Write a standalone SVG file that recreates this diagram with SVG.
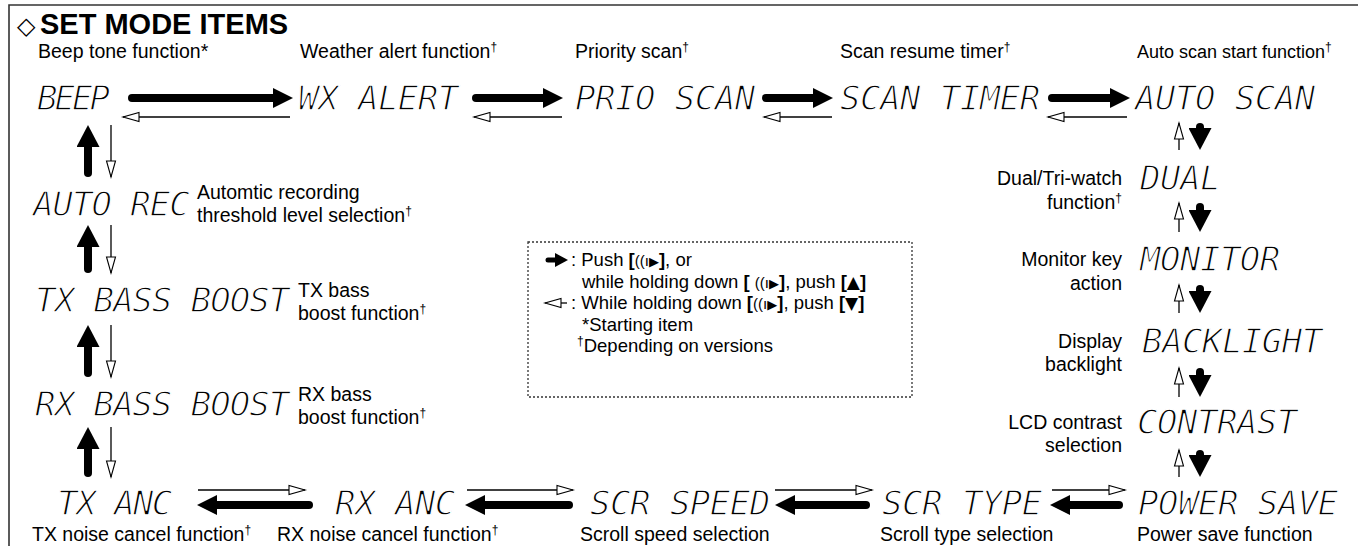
<svg xmlns="http://www.w3.org/2000/svg" width="1358" height="546" viewBox="0 0 1358 546">
<style>
.lbl{font-family:"Liberation Sans",Arial,sans-serif;font-size:19.5px;fill:#000}
.sm{font-size:18px}
.leg{font-size:18.5px}
.sup{font-size:12px}
.lcd{font-family:"DejaVu Sans Mono","Liberation Mono",monospace;font-style:italic;font-size:34px;letter-spacing:-0.5px;fill:#000;stroke:#fff;stroke-width:1.3px}
.thick{stroke:#000;stroke-width:8;stroke-linecap:round;fill:none;marker-end:url(#sh)}
.thickv{stroke:#000;stroke-width:8;stroke-linecap:round;fill:none;marker-end:url(#sv)}
.thin{stroke:#000;stroke-width:1.3;fill:none;marker-end:url(#op)}
.frame{stroke:#333;stroke-width:1.6;fill:none}
.box{stroke:#333;stroke-width:1.3;fill:none;stroke-dasharray:2 2}
.sym{font-family:"DejaVu Sans",sans-serif}
</style>
<defs>
<marker id="sh" viewBox="0 0 20 20" refX="6" refY="10" markerWidth="20" markerHeight="20" orient="auto" markerUnits="userSpaceOnUse"><path d="M0,0 L20,10 L0,20 Z" fill="#000"/></marker>
<marker id="sv" viewBox="0 0 22 23" refX="8" refY="11.5" markerWidth="22" markerHeight="23" orient="auto" markerUnits="userSpaceOnUse"><path d="M0,0 L22,11.5 L0,23 Z" fill="#000"/></marker>
<marker id="op" viewBox="0 0 16 10" refX="16" refY="5" markerWidth="16" markerHeight="10" orient="auto" markerUnits="userSpaceOnUse" overflow="visible"><path d="M16,5 L0,0.5 L0,9.5 Z" fill="#fff" stroke="#000" stroke-width="1.1"/></marker>
</defs>

<g id="frame">
<path class="frame" d="M9,546 V5 H1358"/>
</g>

<g id="title">
<text class="sym" x="17" y="34" font-size="24" font-weight="bold">◇</text>
<text class="lbl" x="40" y="34" style="font-size:29px;font-weight:bold">SET MODE ITEMS</text>
</g>

<g id="beep">
<text class="lbl" x="38" y="58">Beep tone function*</text>
<text class="lcd" x="37" y="110" style="letter-spacing:-3px">BEEP</text>
</g>
<g id="wx-alert">
<text class="lbl" x="300" y="58">Weather alert function<tspan class="sup" dy="-7">†</tspan></text>
<text class="lcd" x="298" y="110">WX ALERT</text>
</g>
<g id="prio-scan">
<text class="lbl" x="575" y="58">Priority scan<tspan class="sup" dy="-7">†</tspan></text>
<text class="lcd" x="575" y="110">PRIO SCAN</text>
</g>
<g id="scan-timer">
<text class="lbl" x="840" y="58">Scan resume timer<tspan class="sup" dy="-7">†</tspan></text>
<text class="lcd" x="840" y="110">SCAN TIMER</text>
</g>
<g id="auto-scan">
<text class="lbl sm" x="1137" y="58">Auto scan start function<tspan class="sup" dy="-7">†</tspan></text>
<text class="lcd" x="1135" y="110">AUTO SCAN</text>
</g>

<g id="dual">
<text class="lbl" x="1122" y="185" text-anchor="end">Dual/Tri-watch</text>
<text class="lbl" x="1122" y="209" text-anchor="end">function<tspan class="sup" dy="-7">†</tspan></text>
<text class="lcd" x="1140" y="190">DUAL</text>
</g>
<g id="monitor">
<text class="lbl" x="1122" y="266" text-anchor="end">Monitor key</text>
<text class="lbl" x="1122" y="290" text-anchor="end">action</text>
<text class="lcd" x="1140" y="271">MONITOR</text>
</g>
<g id="backlight">
<text class="lbl" x="1122" y="348" text-anchor="end">Display</text>
<text class="lbl" x="1122" y="371" text-anchor="end">backlight</text>
<text class="lcd" x="1142" y="353">BACKLIGHT</text>
</g>
<g id="contrast">
<text class="lbl" x="1122" y="429" text-anchor="end">LCD contrast</text>
<text class="lbl" x="1122" y="452" text-anchor="end">selection</text>
<text class="lcd" x="1137" y="434">CONTRAST</text>
</g>
<g id="power-save">
<text class="lcd" x="1138" y="515">POWER SAVE</text>
<text class="lbl" x="1137" y="541">Power save function</text>
</g>
<g id="scr-type">
<text class="lcd" x="882" y="515">SCR TYPE</text>
<text class="lbl" x="880" y="541">Scroll type selection</text>
</g>
<g id="scr-speed">
<text class="lcd" x="590" y="515">SCR SPEED</text>
<text class="lbl" x="580" y="541">Scroll speed selection</text>
</g>
<g id="rx-anc">
<text class="lcd" x="335" y="515">RX ANC</text>
<text class="lbl" x="277" y="541">RX noise cancel function<tspan class="sup" dy="-7">†</tspan></text>
</g>
<g id="tx-anc">
<text class="lcd" x="57" y="515" style="letter-spacing:-1.5px">TX ANC</text>
<text class="lbl" x="32" y="541">TX noise cancel function<tspan class="sup" dy="-7">†</tspan></text>
</g>
<g id="rx-bass-boost">
<text class="lcd" x="35" y="416" style="letter-spacing:-1px">RX BASS BOOST</text>
<text class="lbl" x="298" y="401">RX bass</text>
<text class="lbl" x="298" y="424">boost function<tspan class="sup" dy="-7">†</tspan></text>
</g>
<g id="tx-bass-boost">
<text class="lcd" x="35" y="312" style="letter-spacing:-1px">TX BASS BOOST</text>
<text class="lbl" x="298" y="297">TX bass</text>
<text class="lbl" x="298" y="320">boost function<tspan class="sup" dy="-7">†</tspan></text>
</g>
<g id="auto-rec">
<text class="lcd" x="33" y="216" style="letter-spacing:-1px">AUTO REC</text>
<text class="lbl" x="197" y="199">Automtic recording</text>
<text class="lbl" x="197" y="222">threshold level selection<tspan class="sup" dy="-7">†</tspan></text>
</g>

<g id="connectors">
<line class="thick" x1="132" y1="98" x2="279" y2="98"/>
<line class="thick" x1="476" y1="98" x2="549" y2="98"/>
<line class="thick" x1="766" y1="98" x2="819" y2="98"/>
<line class="thick" x1="1052" y1="98" x2="1116" y2="98"/>
<line class="thin" x1="290" y1="117" x2="123" y2="117"/>
<line class="thin" x1="562" y1="117" x2="474" y2="117"/>
<line class="thin" x1="832" y1="117" x2="764" y2="117"/>
<line class="thin" x1="1127" y1="117" x2="1048" y2="117"/>
<line class="thickv" x1="1200" y1="127" x2="1200" y2="136"/>
<line class="thickv" x1="1200" y1="207" x2="1200" y2="218"/>
<line class="thickv" x1="1200" y1="289" x2="1200" y2="299"/>
<line class="thickv" x1="1200" y1="372" x2="1200" y2="383"/>
<line class="thickv" x1="1200" y1="454" x2="1200" y2="463"/>
<line class="thin" x1="1179" y1="150" x2="1179" y2="123"/>
<line class="thin" x1="1179" y1="232" x2="1179" y2="203"/>
<line class="thin" x1="1179" y1="313" x2="1179" y2="285"/>
<line class="thin" x1="1179" y1="397" x2="1179" y2="368"/>
<line class="thin" x1="1179" y1="477" x2="1179" y2="450"/>
<line class="thick" x1="1119" y1="505" x2="1064" y2="505"/>
<line class="thick" x1="866" y1="505" x2="789" y2="505"/>
<line class="thick" x1="569" y1="505" x2="479" y2="505"/>
<line class="thick" x1="309" y1="505" x2="211" y2="505"/>
<line class="thin" x1="1052" y1="490" x2="1125" y2="490"/>
<line class="thin" x1="775" y1="490" x2="872" y2="490"/>
<line class="thin" x1="467" y1="490" x2="573" y2="490"/>
<line class="thin" x1="198" y1="490" x2="305" y2="490"/>
<line class="thickv" x1="88" y1="473" x2="88" y2="441"/>
<line class="thickv" x1="88" y1="373" x2="88" y2="339"/>
<line class="thickv" x1="88" y1="269" x2="88" y2="239"/>
<line class="thickv" x1="88" y1="173" x2="88" y2="139"/>
<line class="thin" x1="111" y1="427" x2="111" y2="477"/>
<line class="thin" x1="111" y1="325" x2="111" y2="377"/>
<line class="thin" x1="111" y1="225" x2="111" y2="273"/>
<line class="thin" x1="111" y1="125" x2="111" y2="177"/>
</g>

<g id="legend">
<rect class="box" x="528" y="242" width="384" height="155"/>
<path d="M548,260 H556" stroke="#000" stroke-width="5" stroke-linecap="round"/>
<path d="M555,253 L568,260 L555,267 Z" fill="#000"/>
<text class="lbl leg" x="571" y="266">: Push <tspan font-weight="bold">[</tspan><tspan font-size="15">((ı</tspan><tspan class="sym" font-size="13">▶</tspan><tspan font-weight="bold">]</tspan>, or</text>
<text class="lbl leg" x="582" y="287.5">while holding down <tspan font-weight="bold">[</tspan> <tspan font-size="15">((ı</tspan><tspan class="sym" font-size="13">▶</tspan><tspan font-weight="bold">]</tspan>, push <tspan font-weight="bold">[</tspan><tspan class="sym" font-size="17">▲</tspan><tspan font-weight="bold">]</tspan></text>
<line class="thin" x1="567" y1="303" x2="545" y2="303"/>
<text class="lbl leg" x="571" y="309">: While holding down <tspan font-weight="bold">[</tspan><tspan font-size="15">((ı</tspan><tspan class="sym" font-size="13">▶</tspan><tspan font-weight="bold">]</tspan>, push <tspan font-weight="bold">[</tspan><tspan class="sym" font-size="17">▼</tspan><tspan font-weight="bold">]</tspan></text>
<text class="lbl leg" x="582" y="330.5">*Starting item</text>
<text class="lbl leg" x="577" y="352"><tspan class="sup" dy="-7">†</tspan><tspan dy="7">Depending on versions</tspan></text>
</g>
</svg>
